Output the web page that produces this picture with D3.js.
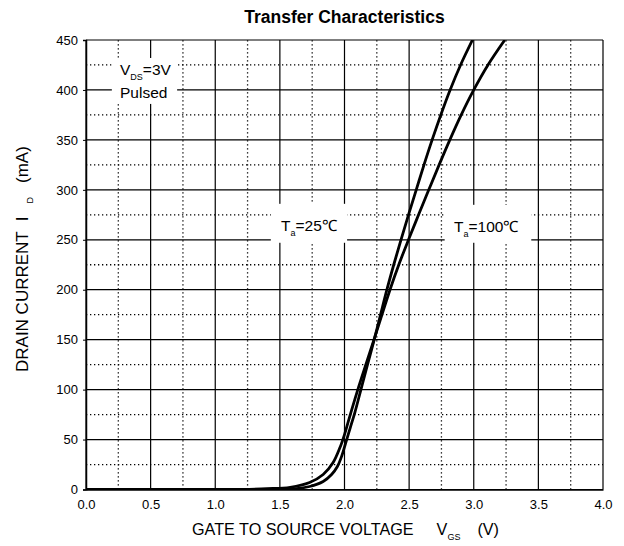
<!DOCTYPE html>
<html>
<head>
<meta charset="utf-8">
<script src="https://cdn.jsdelivr.net/npm/d3@7"></script>
<style>
  body { margin: 0; background: #fff; }
  svg { display: block; font-family: 'Liberation Sans', Arial, sans-serif; }
</style>
</head>
<body>
<div id="chart"></div>
<script>
// gate voltage (V) / drain current (mA)
var vgs25 = [0, 1.2, 1.4, 1.58, 1.73, 1.835, 1.9, 1.945, 1.98, 2.01, 2.045, 2.08, 2.127, 2.178, 2.23, 2.279, 2.328, 2.381, 2.437, 2.495, 2.555, 2.615, 2.678, 2.745, 2.817, 2.898, 2.99];
var id25 = [0, 0, 0.1, 0.4, 3, 8, 15, 23, 34, 47, 62, 77, 100, 125, 150, 175, 200, 225, 250, 275, 300, 325, 350, 375, 400, 425, 450];

var vgs100 = [0, 0.9, 1.2, 1.4, 1.58, 1.73, 1.835, 1.912, 1.965, 2.0, 2.038, 2.103, 2.165, 2.228, 2.29, 2.352, 2.42, 2.495, 2.573, 2.652, 2.732, 2.815, 2.903, 3.0, 3.11, 3.24];
var id100 = [0, 0, 0.2, 0.8, 2.2, 7, 15, 27, 42, 55, 72, 100, 125, 150, 175, 200, 225, 250, 275, 300, 325, 350, 375, 400, 425, 450];

var xTicks = [0, 0.5, 1, 1.5, 2, 2.5, 3, 3.5, 4];
var yTicks = [0, 50, 100, 150, 200, 250, 300, 350, 400, 450];

var width = 624, height = 546;
var margin = { top: 40, right: 21, bottom: 56.5, left: 86 };

var svg = d3.select('#chart').append('svg')
  .attr('width', width)
  .attr('height', height);

var x = d3.scaleLinear().domain([0, 4]).range([margin.left, width - margin.right]);
var y = d3.scaleLinear().domain([0, 450]).range([height - margin.bottom, margin.top]);

// minor dotted grid
var minorX = d3.range(0.25, 4, 0.5);
var minorY = d3.range(25, 450, 50);
var grid = svg.append('g').attr('class', 'grid');
grid.selectAll('.mx').data(minorX).enter().append('line')
  .attr('x1', d => x(d)).attr('x2', d => x(d))
  .attr('y1', y(0)).attr('y2', y(450))
  .attr('stroke', '#000').attr('stroke-width', 1.3)
  .attr('stroke-dasharray', '1.3,2.7');
grid.selectAll('.my').data(minorY).enter().append('line')
  .attr('x1', x(0)).attr('x2', x(4))
  .attr('y1', d => y(d)).attr('y2', d => y(d))
  .attr('stroke', '#000').attr('stroke-width', 1.3)
  .attr('stroke-dasharray', '1.3,2.7');

// major solid grid
grid.selectAll('.gx').data(xTicks).enter().append('line')
  .attr('x1', d => x(d)).attr('x2', d => x(d))
  .attr('y1', y(0)).attr('y2', y(450))
  .attr('stroke', '#000').attr('stroke-width', 1.2);
grid.selectAll('.gy').data(yTicks).enter().append('line')
  .attr('x1', x(0)).attr('x2', x(4))
  .attr('y1', d => y(d)).attr('y2', d => y(d))
  .attr('stroke', '#000').attr('stroke-width', 1.2);

// axes
var xAxis = svg.append('g')
  .attr('transform', 'translate(0,' + y(0) + ')')
  .call(d3.axisBottom(x).tickValues(xTicks).tickFormat(d3.format('.1f')).tickSize(0).tickPadding(10));
var yAxis = svg.append('g')
  .attr('transform', 'translate(' + x(0) + ',0)')
  .call(d3.axisLeft(y).tickValues(yTicks).tickSize(3).tickPadding(5));
[xAxis, yAxis].forEach(function (a) {
  a.selectAll('text').attr('font-size', 13).attr('font-family', 'Liberation Sans, Arial, sans-serif').attr('fill', '#000');
  a.select('.domain').attr('stroke', '#000').attr('stroke-width', 1.5);
  a.selectAll('.tick line').attr('stroke', '#000');
});

// white boxes behind the annotations
var boxes = [
  { x0: 0.2, x1: 0.705, y0: 432, y1: 386 },
  { x0: 1.43, x1: 2.02, y0: 286, y1: 247 },
  { x0: 2.775, x1: 3.445, y0: 285, y1: 247 }
];
svg.append('g').selectAll('rect').data(boxes).enter().append('rect')
  .attr('x', d => x(d.x0))
  .attr('y', d => y(d.y0))
  .attr('width', d => x(d.x1) - x(d.x0))
  .attr('height', d => y(d.y1) - y(d.y0))
  .attr('fill', '#fff');

// curves
var line = d3.line()
  .x(d => x(d[0]))
  .y(d => y(d[1]))
  .curve(d3.curveCatmullRom.alpha(0.5));

svg.append('clipPath').attr('id', 'plotclip').append('rect')
  .attr('x', x(0)).attr('y', y(450))
  .attr('width', x(4) - x(0)).attr('height', y(0) - y(450));

var curves = svg.append('g').attr('clip-path', 'url(#plotclip)');
[[vgs25, id25], [vgs100, id100]].forEach(function (s) {
  curves.append('path')
    .datum(d3.zip(s[0], s[1]))
    .attr('d', line)
    .attr('fill', 'none')
    .attr('stroke', '#000')
    .attr('stroke-width', 2.8);
});

// annotations
var note = svg.append('text').attr('x', 120).attr('y', 75).attr('font-size', 15.5);
note.append('tspan').text('V');
note.append('tspan').text('DS').attr('font-size', 9).attr('dy', 5);
note.append('tspan').text('=3V').attr('dy', -5);
svg.append('text').attr('x', 120).attr('y', 98).attr('font-size', 15.5).text('Pulsed');

function tempLabel(px, py, t) {
  var tx = svg.append('text').attr('x', px).attr('y', py).attr('font-size', 15.5);
  tx.append('tspan').text('T');
  tx.append('tspan').text('a').attr('font-size', 9).attr('dy', 5);
  tx.append('tspan').text('=' + t + '\u2103').attr('dy', -5);
}
tempLabel(281, 231, '25');
tempLabel(454, 232, '100');

// title and axis labels
svg.append('text')
  .attr('x', (x(0) + x(4)) / 2).attr('y', 23)
  .attr('text-anchor', 'middle')
  .attr('font-size', 17.5).attr('font-weight', 'bold')
  .text('Transfer Characteristics');

var xl = svg.append('text').attr('x', 192).attr('y', 534.5).attr('font-size', 16.2);
xl.append('tspan').text('GATE TO SOURCE VOLTAGE');
xl.append('tspan').text('V').attr('dx', 23);
xl.append('tspan').text('GS').attr('font-size', 9).attr('dy', 5);
xl.append('tspan').text('(V)').attr('dx', 17).attr('dy', -5);

var yl = svg.append('text')
  .attr('transform', 'translate(28,372) rotate(-90)')
  .attr('font-size', 17);
yl.append('tspan').text('DRAIN CURRENT');
yl.append('tspan').text('I').attr('dx', 10);
yl.append('tspan').text('D').attr('font-size', 9).attr('dy', 5).attr('dx', 13);
yl.append('tspan').text('(mA)').attr('dx', 14).attr('dy', -5);
</script>
</body>
</html>
